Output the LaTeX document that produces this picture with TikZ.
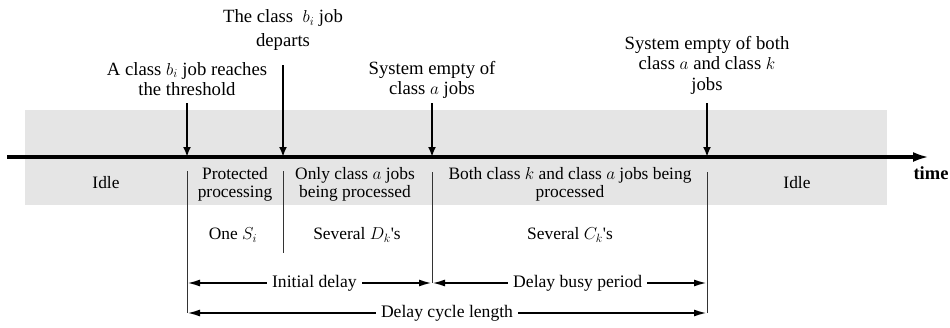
\documentclass[tikz,border=0pt]{standalone}
\usepackage{fontspec}
\setmainfont{Liberation Serif}
\usetikzlibrary{arrows.meta}
\definecolor{band}{RGB}{229,229,229}
\begin{document}
\begin{tikzpicture}[x=1pt,y=-1pt,
  lbl/.style={font=\fontsize{18.7}{20.5}\selectfont, align=center, inner sep=0pt},
  txt/.style={font=\fontsize{17.4}{18}\selectfont, align=center, inner sep=0pt},
  evt/.style={line width=2pt, -{Latex[length=10pt,width=8pt]}},
  divider/.style={line width=0.9pt, black!80},
  span/.style={line width=2pt, {Latex[length=13pt,width=7pt]}-{Latex[length=13pt,width=7pt]}},
  spanlbl/.style={font=\fontsize{17.6}{18}\selectfont, fill=white, inner sep=5pt}]
\useasboundingbox (0,0) rectangle (950,327);
\fill[band] (25,110) rectangle (887,205);
% timeline
\coordinate (t0) at (7,157);
\coordinate (t1) at (929,157);
\draw[line width=3.5pt, -{Latex[length=16pt,width=10pt]}] (t0) -- (t1);
\node[font=\fontsize{18.5}{18}\selectfont\bfseries, inner sep=0pt] (time) at (931,173) {time};
% event points
\coordinate (e1) at (187,157);
\coordinate (e2) at (283,157);
\coordinate (e3) at (432,157);
\coordinate (e4) at (707,157);
% event labels
\node[lbl] (l1) at (187,79) {A class $b_i$ job reaches\\the threshold};
\node[font=\fontsize{18.7}{24}\selectfont, align=center, inner sep=0pt] (l2) at (283,30) {The class \ $b_i$ job\\departs};
\node[lbl] (l3) at (432,80) {System empty of\\class $a$ jobs};
\node[lbl] (l4) at (707,65) {System empty of both\\class $a$ and class $k$\\jobs};
\coordinate (a1) at (187,103);
\coordinate (a2) at (283,65);
\coordinate (a3) at (432,103);
\coordinate (a4) at (707,103);
\draw[evt] (a1) -- (e1);
\draw[evt] (a2) -- (e2);
\draw[evt] (a3) -- (e3);
\draw[evt] (a4) -- (e4);
% dividers
\coordinate (d1t) at (187,171); \coordinate (d1b) at (187,313);
\coordinate (d2t) at (283,171); \coordinate (d2b) at (283,253);
\coordinate (d3t) at (432,172); \coordinate (d3b) at (432,283);
\coordinate (d4t) at (707,172); \coordinate (d4b) at (707,313);
\draw[divider] (d1t) -- (d1b);
\draw[divider] (d2t) -- (d2b);
\draw[divider] (d3t) -- (d3b);
\draw[divider] (d4t) -- (d4b);
% phase texts
\node[txt] (idle1) at (106,183) {Idle};
\node[txt] (prot) at (235,184) {Protected\\processing};
\node[txt] (only) at (355,184) {Only class $a$ jobs\\being processed};
\node[txt] (both) at (570,184) {Both class $k$ and class $a$ jobs being\\processed};
\node[txt] (idle2) at (797,183) {Idle};
\node[txt] (one) at (233,235) {One $S_i$};
\node[txt] (sevd) at (357,235) {Several $D_k$\textquotesingle s};
\node[txt] (sevc) at (570,235) {Several $C_k$\textquotesingle s};
% spans
\coordinate (s1) at (187,283); \coordinate (s2) at (432,283); \coordinate (s3) at (707,283);
\coordinate (c1) at (187,313); \coordinate (c2) at (707,313);
\draw[span] (s1) -- (s2) node[spanlbl, pos=0.52] (init) {Initial delay};
\draw[span] (s2) -- (s3) node[spanlbl, pos=0.53] (busy) {Delay busy period};
\draw[span] (c1) -- (c2) node[spanlbl, pos=0.5] (cyc) {Delay cycle length};
\end{tikzpicture}
\end{document}
